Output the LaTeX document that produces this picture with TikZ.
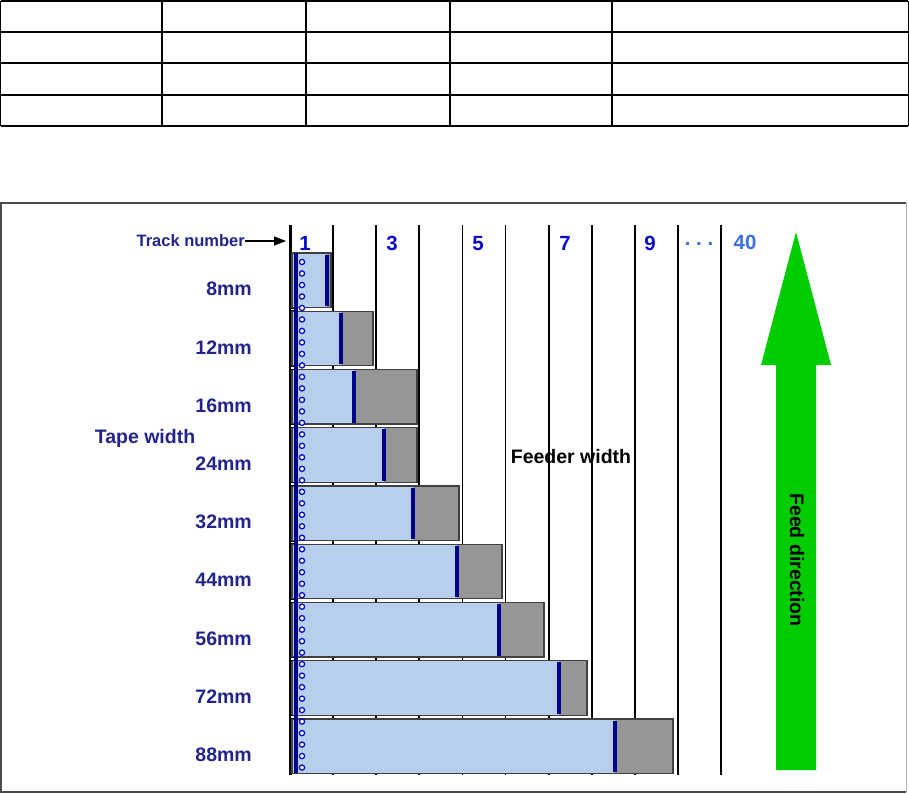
\documentclass[tikz,border=0pt]{standalone}
\usepackage{fontspec}
\setmainfont{Liberation Sans}
\usetikzlibrary{
  arrows.meta,
  positioning,
  calc
}
\definecolor{twNavy}{HTML}{23238C}
\definecolor{twBlue}{HTML}{0B0BCC}
\definecolor{twSky}{HTML}{3C6EE6}
\definecolor{twTape}{HTML}{B7CEEC}
\definecolor{twGray}{HTML}{969696}
\definecolor{twGuide}{HTML}{00008F}
\definecolor{twGreen}{HTML}{00CC00}
\tikzset{
  tabline/.style={line width=1.4pt, black},
  frameline/.style={line width=1.5pt, black!70},
  trackline/.style={line width=1.8pt, black},
  tracknum/.style={font=\fontsize{20.5}{22}\selectfont\bfseries, text=twBlue, inner sep=0pt},
  sizelbl/.style={font=\fontsize{19.5}{22}\selectfont\bfseries, text=twNavy, anchor=east, inner sep=0pt},
  biglbl/.style={font=\fontsize{19.5}{22}\selectfont\bfseries, inner sep=0pt},
  tapebox/.style={draw=black!75, line width=1.3pt, fill=twGray},
  tapeband/.style={fill=twTape},
  guide/.style={line width=3.8pt, twGuide},
  hole/.style={draw=twBlue, line width=1.3pt, fill=white},
  gaptab/.style={draw=black, line width=0.6pt, fill=white},
  pointer/.style={-{Triangle[length=12pt, width=9pt]}, line width=1.5pt, black}
}
\begin{document}
\begin{tikzpicture}[x=1pt, y=-1pt]
  \useasboundingbox (0,0) rectangle (909,794);

  % empty table on top
  \foreach \y in {1,32,63,95,126}
    \draw[tabline] (0.7,\y) -- (908.2,\y);
  \foreach \x in {0.7,162,306,450,612,908.2}
    \draw[tabline] (\x,1) -- (\x,126);

  % frame
  \draw[frameline] (906,203) -- (1,203) -- (1,792) -- (906,792);
  \draw[line width=1pt, black!30] (906,203) -- (906,792);

  % track lines
  \foreach \i in {0,...,10}
    \draw[trackline] ({290+43.1*\i},225) -- ({290+43.1*\i},775);
  \draw[line width=3pt, black] (290,225) -- (290,775);

  % track numbers
  \foreach \n/\x in {1/305,3/392,5/478,7/565,9/650}
    \node[tracknum] (num\n) at (\x,243.5) {\n};
  \node[tracknum, text=twSky] (numdots) at (699,244) {.~.~.};
  \node[tracknum, text=twSky] (num40) at (745,242) {40};

  \node[font=\fontsize{16.5}{18}\selectfont\bfseries, text=twNavy, anchor=east, inner sep=0pt] (trackname) at (245,241) {Track number};
  \coordinate (trackpt) at (286,241);
  \draw[pointer] (trackname.east) -- (trackpt);

  % tapes
  \foreach \w/\b/\r [count=\k from 0] in {8mm/327/331, 12mm/341/373, 16mm/354/417, 24mm/384/417, 32mm/413/459, 44mm/457/502, 56mm/499/544, 72mm/559/587, 88mm/615/673} {
    \pgfmathsetmacro\t{253+58.25*\k}
    \path[tapebox] (292,\t) rectangle (\r,{\t+54.5});
    \fill[tapeband] (293,{\t+0.7}) rectangle (\b,{\t+53.8});
    \draw[guide] (\b,{\t+1.5}) -- (\b,{\t+53});
    \node[sizelbl] (size\k) at (252,{\t+36}) {\w};
  }
  \foreach \k in {0,...,7}
    \draw[gaptab] (290,{253+58.25*\k+55}) rectangle (295,{253+58.25*\k+57.7});

  % guide edge and sprocket holes
  \draw[line width=3.2pt, twGuide] (296,253) -- (296,773);
  \foreach \j in {0,...,44}
    \draw[hole] (302,{262+11.49*\j}) circle (2.6);

  \node[biglbl, text=twNavy] (tapewidth) at (145,438) {Tape width};
  \node[biglbl, text=black] (feederwidth) at (571,457) {Feeder width};

  % feed arrow
  \fill[twGreen] (796,232) -- (831,365) -- (816,365) -- (816,770) -- (776,770) -- (776,365) -- (761,365) -- cycle;
  \node[biglbl, text=black, rotate=-90] (feeddir) at (797,560) {Feed direction};
\end{tikzpicture}
\end{document}
